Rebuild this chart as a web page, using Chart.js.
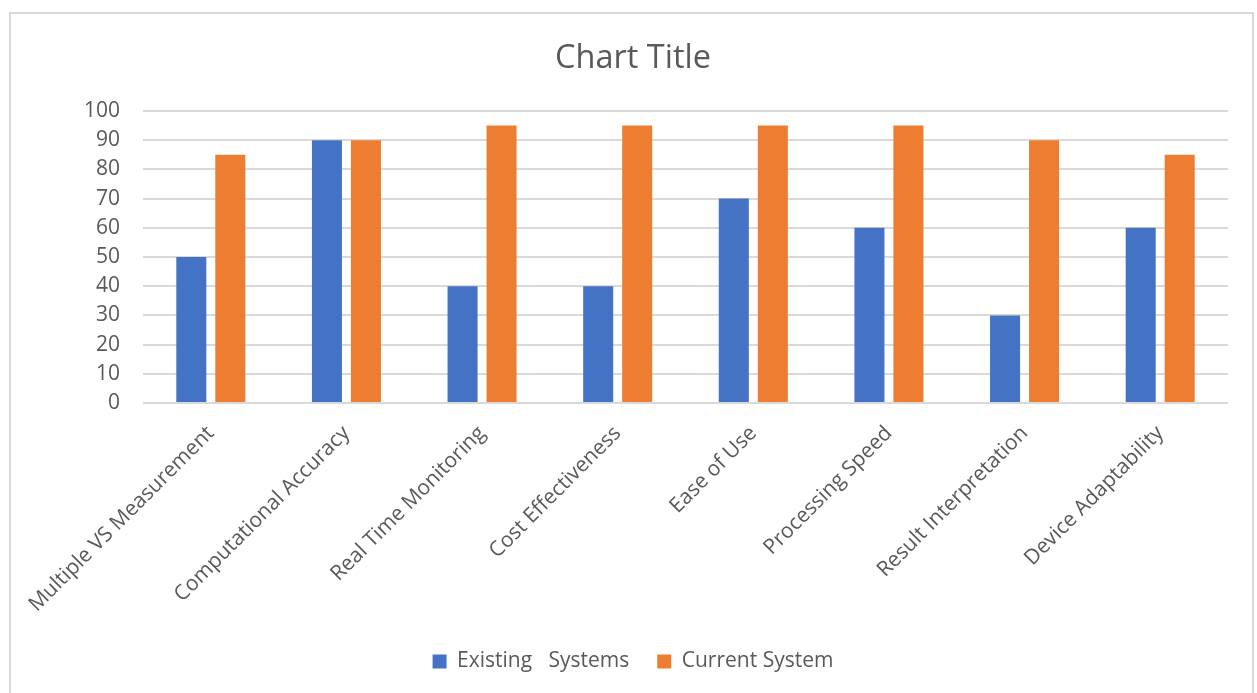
<!DOCTYPE html>
<html>
<head>
<meta charset="utf-8">
<script src="https://cdn.jsdelivr.net/npm/chart.js@4/dist/chart.umd.min.js"></script>
<style>
  html, body { margin: 0; padding: 0; background: #ffffff; overflow: hidden; }
  #frame {
    position: absolute; left: 9px; top: 12px; width: 1245px; height: 700px;
    border: 2px solid #d9d9d9; box-sizing: border-box; pointer-events: none; z-index: 2;
  }
  #wrap { position: absolute; left: 0; top: 0; width: 1257px; height: 693px; }
</style>
</head>
<body>
<div id="frame"></div>
<div id="wrap"><canvas id="chart" width="1257" height="693"></canvas></div>
<script>
// Feature categories along the x axis
const categories = [
  'Multiple VS Measurement',
  'Computational Accuracy',
  'Real Time Monitoring',
  'Cost Effectiveness',
  'Ease of Use',
  'Processing Speed',
  'Result Interpretation',
  'Device Adaptability'
];

// Scores per system
const existingSystems = [50, 90, 40, 40, 70, 60, 30, 60];
const currentSystem   = [85, 90, 95, 95, 95, 95, 90, 85];

// Value axis ticks
const yTicks = [0, 10, 20, 30, 40, 50, 60, 70, 80, 90, 100];

const seriesNames = ['Existing   Systems', 'Current System'];

const TEXT = '#595959';
const GRID = '#d9d9d9';
const FONT = "'Open Sans', 'Noto Sans', sans-serif";

new Chart(document.getElementById('chart'), {
  type: 'bar',
  data: {
    labels: categories,
    datasets: [
      { label: seriesNames[0], data: existingSystems, backgroundColor: '#4472c4' },
      { label: seriesNames[1], data: currentSystem, backgroundColor: '#ed7d31' }
    ]
  },
  options: {
    responsive: false,
    animation: false,
    devicePixelRatio: 1,
    layout: { padding: { left: 38, right: 29, top: 0, bottom: 11 } },
    datasets: { bar: { categoryPercentage: 0.575, barPercentage: 0.77 } },
    plugins: {
      title: {
        display: true,
        text: 'Chart Title',
        color: TEXT,
        font: { family: FONT, size: 32.5, weight: 'normal' },
        padding: { top: 39, bottom: 33 }
      },
      legend: {
        position: 'bottom',
        labels: {
          color: TEXT,
          font: { family: FONT, size: 21 },
          boxWidth: 14,
          boxHeight: 14,
          padding: 28
        }
      },
      tooltip: { enabled: false }
    },
    scales: {
      x: {
        grid: { display: false },
        border: { display: false },
        ticks: {
          color: TEXT,
          font: { family: FONT, size: 21 },
          maxRotation: 45,
          minRotation: 45,
          autoSkip: false,
          padding: 10
        },
        afterFit: (s) => { s.height = 220; }
      },
      y: {
        min: 0,
        max: 100,
        afterBuildTicks: (s) => { s.ticks = yTicks.map(v => ({ value: v })); },
        grid: { color: GRID, lineWidth: 2, drawTicks: false },
        border: { display: false },
        ticks: {
          color: TEXT,
          font: { family: FONT, size: 21 },
          padding: 23
        },
        afterFit: (s) => { s.width = 105; }
      }
    }
  }
});
</script>
</body>
</html>
